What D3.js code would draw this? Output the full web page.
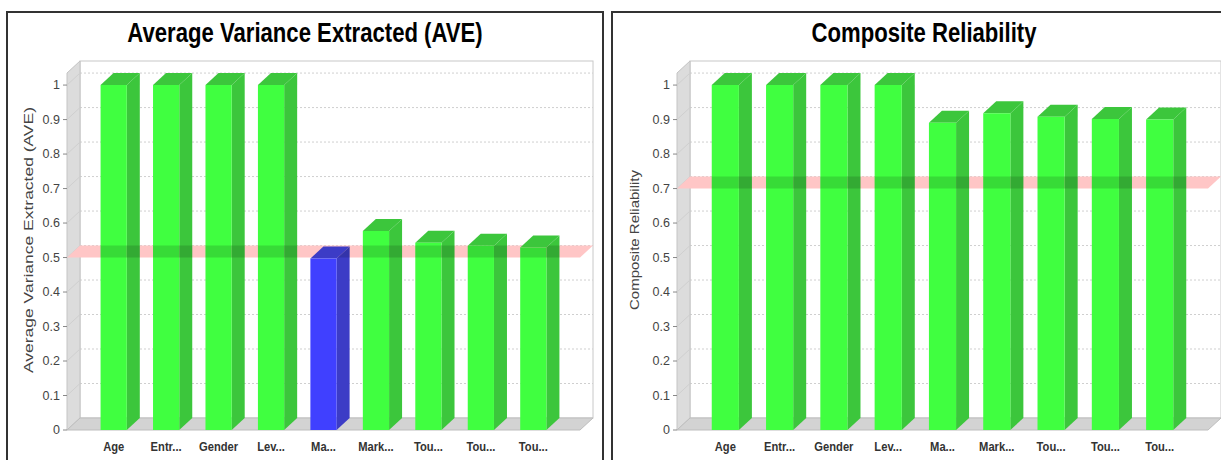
<!DOCTYPE html>
<html>
<head>
<meta charset="utf-8">
<script src="https://cdn.jsdelivr.net/npm/d3@7"></script>
<style>
  body { margin: 0; background: #fff; }
  svg { display: block; }
</style>
</head>
<body>
<div id="chart"></div>
<script>
const categories = ["Age", "Entr...", "Gender", "Lev...", "Ma...", "Mark...", "Tou...", "Tou...", "Tou..."];
const aveValues = [1, 1, 1, 1, 0.497, 0.577, 0.543, 0.534, 0.529];
const crValues = [1, 1, 1, 1, 0.891, 0.918, 0.908, 0.902, 0.900];
const yTicks = [0, 0.1, 0.2, 0.3, 0.4, 0.5, 0.6, 0.7, 0.8, 0.9, 1];

const width = 1221, height = 460;
const dx = 13, dy = 12; // 3d depth offset
const narrow = 0.82;   // fake "Arial Narrow"

const svg = d3.select("#chart").append("svg")
  .attr("width", width)
  .attr("height", height);

const defs = svg.append("defs");

function drawPanel(opt) {
  const g = svg.append("g");

  // panel frame
  g.append("rect")
    .attr("x", opt.frameX).attr("y", 12)
    .attr("width", opt.frameW).attr("height", 470)
    .attr("fill", "#fff")
    .attr("stroke", "#333").attr("stroke-width", 2);

  g.append("text")
    .attr("transform", `translate(${opt.titleX},42) scale(${narrow},1)`)
    .attr("text-anchor", "middle")
    .style("font-family", "'Liberation Sans', Arial, sans-serif")
    .style("font-weight", "bold")
    .style("font-size", "27px")
    .attr("fill", "#000")
    .text(opt.title);

  const y = d3.scaleLinear().domain([0, 1.035]).range([430, 73]);
  const x = d3.scaleBand()
    .domain(d3.range(categories.length))
    .range([opt.x0, opt.x1])
    .paddingInner(0.5)
    .paddingOuter(0.64);

  const top = y(1.035), base = y(0);

  // back wall
  g.append("rect")
    .attr("x", opt.x0 + dx).attr("y", top - dy)
    .attr("width", opt.x1 - opt.x0).attr("height", base - top)
    .attr("fill", "#fff")
    .attr("stroke", "#c8c8c8");

  // gridlines on back wall
  g.append("g").selectAll("line")
    .data(yTicks.filter(d => d > 0))
    .join("line")
    .attr("x1", opt.x0 + dx).attr("x2", opt.x1 + dx)
    .attr("y1", d => y(d) - dy).attr("y2", d => y(d) - dy)
    .attr("stroke", "#cfcfcf")
    .attr("stroke-dasharray", "2,2");

  // left side wall
  g.append("path")
    .attr("d", `M${opt.x0},${base}L${opt.x0},${top}L${opt.x0 + dx},${top - dy}L${opt.x0 + dx},${base - dy}Z`)
    .attr("fill", "#dcdcdc")
    .attr("stroke", "#c4c4c4");

  g.append("g").selectAll("line")
    .data(yTicks.filter(d => d > 0))
    .join("line")
    .attr("x1", opt.x0).attr("x2", opt.x0 + dx)
    .attr("y1", d => y(d)).attr("y2", d => y(d) - dy)
    .attr("stroke", "#cfcfcf");

  // floor
  g.append("path")
    .attr("d", `M${opt.x0},${base}L${opt.x1},${base}L${opt.x1 + dx},${base - dy}L${opt.x0 + dx},${base - dy}Z`)
    .attr("fill", "#d3d3d3")
    .attr("stroke", "#bdbdbd");

  // threshold band
  const ty = y(opt.threshold);
  const bandPath = `M${opt.x0},${ty}L${opt.x1},${ty}L${opt.x1 + dx},${ty - dy}L${opt.x0 + dx},${ty - dy}Z`;
  g.append("path")
    .attr("d", bandPath)
    .attr("fill", "#ffc6c6");

  // bars
  const clip = defs.append("clipPath").attr("id", opt.id + "-clip");
  const bw = x.bandwidth();
  const bars = g.append("g");
  opt.values.forEach((v, i) => {
    const bx = x(i), by = y(v);
    const below = v < opt.threshold;
    const front = below ? "#4040ff" : "#40ff40";
    const dark = below ? "#3c3cc6" : "#3cc63c";
    const side = `M${bx + bw},${by}L${bx + bw + dx},${by - dy}L${bx + bw + dx},${base - dy}L${bx + bw},${base}Z`;
    const topFace = `M${bx},${by}L${bx + dx},${by - dy}L${bx + bw + dx},${by - dy}L${bx + bw},${by}Z`;
    const frontFace = `M${bx},${by}L${bx + bw},${by}L${bx + bw},${base}L${bx},${base}Z`;
    bars.append("path").attr("d", side).attr("fill", dark);
    bars.append("path").attr("d", topFace).attr("fill", dark);
    bars.append("path").attr("d", frontFace).attr("fill", front);
    clip.append("path").attr("d", side);
    clip.append("path").attr("d", frontFace);
  });

  // band seen through the bars
  g.append("path")
    .attr("d", bandPath)
    .attr("fill", "#000")
    .attr("fill-opacity", 0.14)
    .attr("clip-path", `url(#${opt.id}-clip)`);

  // y axis ticks + labels
  const axis = g.append("g");
  axis.selectAll("line")
    .data(yTicks)
    .join("line")
    .attr("x1", opt.x0 - 4).attr("x2", opt.x0)
    .attr("y1", d => y(d)).attr("y2", d => y(d))
    .attr("stroke", "#888");
  axis.selectAll("text")
    .data(yTicks)
    .join("text")
    .attr("x", opt.x0 - 7)
    .attr("y", d => y(d))
    .attr("dy", "0.35em")
    .attr("text-anchor", "end")
    .style("font-family", "'Liberation Sans', Arial, sans-serif")
    .style("font-size", "12.5px")
    .attr("fill", "#444")
    .text(d => d3.format("~g")(d));

  g.append("text")
    .attr("transform", `translate(${opt.labelX},240) rotate(-90)`)
    .attr("text-anchor", "middle")
    .attr("textLength", opt.labelLen)
    .attr("lengthAdjust", "spacingAndGlyphs")
    .style("font-family", "'Liberation Sans', Arial, sans-serif")
    .style("font-size", "13.5px")
    .attr("fill", "#444")
    .text(opt.axisLabel);

  // category labels
  g.append("g").selectAll("text")
    .data(categories)
    .join("text")
    .attr("transform", (d, i) => `translate(${x(i) + bw / 2},451) scale(0.86,1)`)
    .attr("text-anchor", "middle")
    .style("font-family", "'Liberation Sans', Arial, sans-serif")
    .style("font-weight", "bold")
    .style("font-size", "13px")
    .attr("fill", "#333")
    .text(d => d);
}

drawPanel({
  id: "ave", title: "Average Variance Extracted (AVE)",
  axisLabel: "Average Variance Extracted (AVE)",
  values: aveValues, threshold: 0.5,
  frameX: 7, frameW: 596, titleX: 305, x0: 67, x1: 580, labelX: 33, labelLen: 266
});

drawPanel({
  id: "cr", title: "Composite Reliability",
  axisLabel: "Composite Reliability",
  values: crValues, threshold: 0.7,
  frameX: 612, frameW: 624, titleX: 924, x0: 677, x1: 1208, labelX: 639, labelLen: 140
});
</script>
</body>
</html>
